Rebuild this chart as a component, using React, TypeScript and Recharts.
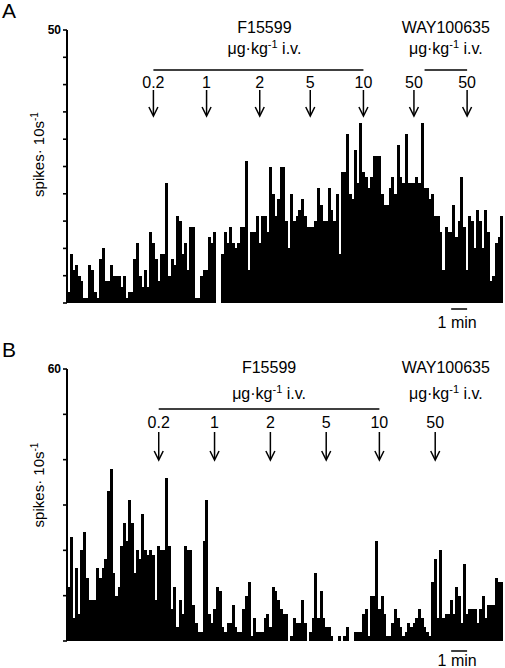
import { BarChart, Bar, XAxis, YAxis, ReferenceLine } from "recharts"

// spikes per 10 s bin, panel A
const spikesA = [
  2, 9, 6, 7, 5, 4, 1, 1, 7, 6,
  2, 1, 8, 10, 4, 4, 7, 5, 5, 5,
  3, 5, 1, 2, 2, 8, 11, 5, 3, 6,
  3, 13, 11, 8, 4, 9, 9, 22, 5, 8,
  7, 16, 15, 9, 11, 6, 14, 14, 1, 1,
  5, 6, 6, 12, 11, 13, 0, 0, 9, 13,
  11, 14, 11, 10, 11, 14, 14, 26,
  6, 13, 13, 16, 11, 16, 16, 13, 25, 20, 16, 19, 25, 25,
  15, 10, 20, 15, 16, 17, 19, 16, 14, 14, 14, 15, 21, 18, 15, 15, 21, 17, 15,
  20, 9, 24, 24, 31, 20, 19, 28, 22, 33, 24, 23, 21, 23, 27, 27, 27, 20, 18, 18, 21,
  23, 20, 29, 23, 22, 31, 22, 22, 22, 23, 22, 33, 21, 21, 19, 20, 16, 16, 13, 6,
  14, 13, 13, 18, 12, 15, 23, 14, 6, 16, 15, 10, 17, 15, 10, 17, 13, 4, 5, 11, 12, 16,
]

// spikes per 10 s bin, panel B
const spikesB = [
  12, 23, 5, 16, 6, 20, 24, 14, 9, 9,
  9, 16, 14, 16, 18, 33, 38, 15, 10, 12,
  21, 26, 22, 31, 26, 15, 20, 18, 28, 20,
  19, 20, 19, 9, 21, 20, 20, 36, 21, 7,
  12, 3, 9, 6, 21, 20, 20, 8, 4,
  2, 2, 22, 31, 6, 4, 7, 12, 11, 3,
  2, 4, 4, 8, 3, 2, 2, 7, 10, 13,
  1, 5, 2, 2, 2, 5, 6, 3, 12, 11,
  9, 7, 6, 6, 0, 1, 5, 4, 4, 9,
  4, 0, 2, 5, 15, 5, 11, 5, 3, 3,
  1, 0, 0, 1, 0, 1, 3,
  0, 0, 2, 2, 2, 6, 7, 1, 10, 10,
  22, 7, 10, 6, 1, 1, 4, 7, 5, 3,
  1, 2, 4, 3, 4, 5, 7, 5, 3, 2,
  1, 13, 18, 5, 20, 5, 6, 6, 9, 6,
  12, 10, 4, 17, 6, 7, 7, 7, 4, 7,
  10, 5, 8, 8, 8, 14, 13, 13,
]

const ticksA = [0, 5, 10, 15, 20, 25, 30, 35, 40, 45, 50]
const ticksB = [0, 10, 20, 30, 40, 50, 60]

// injection labels and the bin at which each was given
const dosesA = ["0.2", "1", "2", "5", "10", "50", "50"]
const doseBinsA = [32, 52, 72, 91, 111, 130, 150]
const dosesB = ["0.2", "1", "2", "5", "10", "50"]
const doseBinsB = [34, 55, 76, 97, 117, 138]

const drugs = ["F15599", "WAY100635"]
const drugSpanA = [[32, 111], [134, 150]]
const drugSpanB = [[34, 117], [134, 150]]
const drugBracketA = [true, true]
const drugBracketB = [true, false]

const scaleBinA = 144
const scaleBinB = 144
const binsPerMin = 6

const font = '"Liberation Sans", Arial, Helvetica, sans-serif'

function YTitle({ viewBox, dy, letter }: any) {
  const cy = viewBox.y + viewBox.height / 2 + dy
  return (
    <g fontFamily={font}>
      <text x={2} y={letter.y} fontSize={21}>{letter.text}</text>
      <text x={44} y={cy} transform={`rotate(-90 44 ${cy})`} textAnchor="middle" fontSize={15}>
        spikes· 10s<tspan dy={-6} fontSize={10}>-1</tspan>
      </text>
    </g>
  )
}

function Units({ x, y }: any) {
  return (
    <text x={x} y={y} textAnchor="middle" fontSize={16} fontFamily={font}>
      μg·kg<tspan dy={-6} fontSize={11}>-1</tspan>
      <tspan dy={6}> i.v.</tspan>
    </text>
  )
}

function DoseArrow({ x1, y1, y2, label, cfg }: any) {
  const top = Math.min(y1, y2)
  const a = top + cfg.arrowTop
  const b = top + cfg.arrowTip
  return (
    <g>
      <text x={x1} y={top + cfg.labelDy} textAnchor="middle" fontSize={16} fontFamily={font}>
        {label}
      </text>
      <line x1={x1} x2={x1} y1={a} y2={b - 1} stroke="#000" strokeWidth={1.5} />
      <polyline
        points={`${x1 - 4.5},${b - 9} ${x1},${b} ${x1 + 4.5},${b - 9}`}
        fill="none"
        stroke="#000"
        strokeWidth={1.5}
      />
    </g>
  )
}

function DrugTitle({ x1, x2, y1, name, bracket, cfg }: any) {
  const cx = (x1 + x2) / 2 + (name === "F15599" ? cfg.titleDx : 0)
  return (
    <g>
      {bracket && (
        <line x1={x1} x2={x2} y1={y1 + cfg.bracketDy} y2={y1 + cfg.bracketDy} stroke="#000" strokeWidth={1.4} />
      )}
      <text x={cx} y={y1 + cfg.titleDy} textAnchor="middle" fontSize={16} fontFamily={font}>
        {name}
      </text>
      <Units x={cx} y={y1 + cfg.unitsDy} />
    </g>
  )
}

function ScaleBar({ x1, x2, y1, cfg }: any) {
  return (
    <g>
      <line x1={x1} x2={x2} y1={y1 + cfg.scaleDy} y2={y1 + cfg.scaleDy} stroke="#000" strokeWidth={1.5} />
      <text x={(x1 + x2) / 2 - 2} y={y1 + cfg.scaleTextDy} textAnchor="middle" fontSize={16} fontFamily={font}>
        1 min
      </text>
    </g>
  )
}

function SpikePanel({ cfg }: any) {
  const data = cfg.spikes.map((v: number, i: number) => ({ t: i, spikes: v }))
  const max = cfg.ticks[cfg.ticks.length - 1]
  return (
    <div style={{ position: "absolute", left: 0, top: cfg.top }}>
      <BarChart
        width={505}
        height={cfg.height}
        data={data}
        margin={{ top: cfg.marginTop, right: 2, bottom: 27, left: 47 }}
        barCategoryGap={0}
        barGap={0}
      >
        <XAxis dataKey="t" tick={false} tickLine={false} height={0} axisLine={{ stroke: "#000", strokeWidth: 1.5 }} />
        <YAxis
          width={20}
          domain={[0, max]}
          ticks={cfg.ticks}
          interval={0}
          tickSize={4}
          tickMargin={2}
          tickLine={{ stroke: "#000", strokeWidth: 1.6 }}
          axisLine={{ stroke: "#000", strokeWidth: 2 }}
          tick={(p: any) =>
            p.payload.value === max ? (
              <text x={p.x} y={p.y} dy={4} textAnchor="end" fontSize={12} fontWeight="bold" fontFamily={font}>
                {max}
              </text>
            ) : (
              <g />
            )
          }
          label={<YTitle dy={cfg.yLabelDy} letter={cfg.letter} />}
        />
        <Bar
          dataKey="spikes"
          isAnimationActive={false}
          shape={(p: any) => (
            <rect
              x={p.x}
              y={p.y}
              width={p.width}
              height={Math.max(0, p.height)}
              fill="#000"
              shapeRendering="crispEdges"
            />
          )}
        />
        {cfg.doseBins.map((bin: number, j: number) => (
          <ReferenceLine
            key={"d" + j}
            x={bin}
            shape={(p: any) => <DoseArrow {...p} label={cfg.doses[j]} cfg={cfg} />}
          />
        ))}
        {drugs.map((name, j) => (
          <ReferenceLine
            key={"g" + j}
            segment={[
              { x: cfg.spans[j][0], y: max },
              { x: cfg.spans[j][1], y: max },
            ]}
            shape={(p: any) => <DrugTitle {...p} name={name} bracket={cfg.brackets[j]} cfg={cfg} />}
          />
        ))}
        <ReferenceLine
          segment={[
            { x: cfg.scaleBin, y: 0 },
            { x: cfg.scaleBin + binsPerMin, y: 0 },
          ]}
          shape={(p: any) => <ScaleBar {...p} cfg={cfg} />}
        />
      </BarChart>
    </div>
  )
}

const panelA = {
  spikes: spikesA,
  ticks: ticksA,
  doses: dosesA,
  doseBins: doseBinsA,
  spans: drugSpanA,
  brackets: drugBracketA,
  scaleBin: scaleBinA,
  top: 0,
  height: 330,
  marginTop: 30,
  letter: { text: "A", y: 18 },
  yLabelDy: -12,
  titleDx: 6,
  titleDy: 2.7,
  unitsDy: 23.5,
  bracketDy: 40,
  labelDy: 57.5,
  arrowTop: 60,
  arrowTip: 86,
  scaleDy: 6,
  scaleTextDy: 25,
}

const panelB = {
  spikes: spikesB,
  ticks: ticksB,
  doses: dosesB,
  doseBins: doseBinsB,
  spans: drugSpanB,
  brackets: drugBracketB,
  scaleBin: scaleBinB,
  top: 332,
  height: 336,
  marginTop: 37,
  letter: { text: "B", y: 25 },
  yLabelDy: -20,
  titleDx: 0,
  titleDy: 4,
  unitsDy: 29.5,
  bracketDy: 40,
  labelDy: 58.5,
  arrowTop: 63,
  arrowTip: 91,
  scaleDy: 10,
  scaleTextDy: 25,
}

export default function App() {
  return (
    <div style={{ position: "absolute", left: 0, top: 0, width: 505, height: 668, background: "#fff" }}>
      <SpikePanel cfg={panelA} />
      <SpikePanel cfg={panelB} />
    </div>
  )
}
